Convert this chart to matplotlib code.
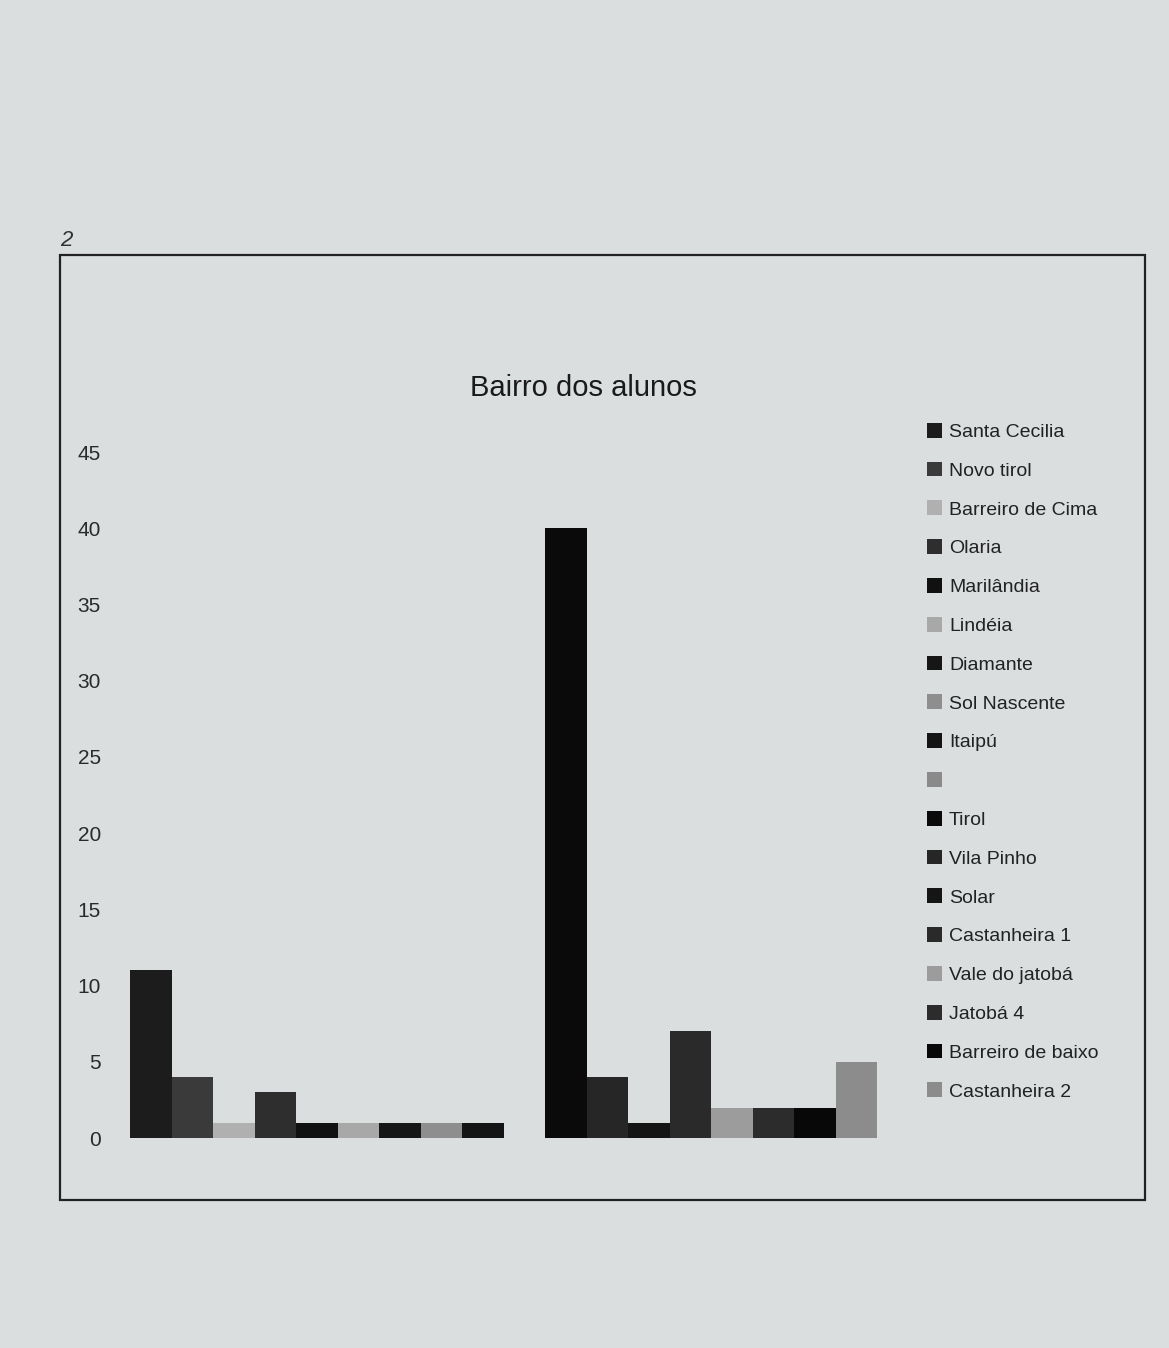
import numpy as np
import matplotlib.pyplot as plt
from matplotlib.patches import Rectangle

# bairros (one series each, as in the original spreadsheet chart)
bairros = ["Santa Cecilia", "Novo tirol", "Barreiro de Cima", "Olaria", "Marilândia",
           "Lindéia", "Diamante", "Sol Nascente", "Itaipú", "",
           "Tirol", "Vila Pinho", "Solar", "Castanheira 1", "Vale do jatobá",
           "Jatobá 4", "Barreiro de baixo", "Castanheira 2"]
alunos = [11, 4, 1, 3, 1, 1, 1, 1, 1, 0,
          40, 4, 1, 7, 2, 2, 2, 5]
cores = ["#1c1c1c", "#3a3a3a", "#b0b0b0", "#2e2e2e", "#111111",
         "#a8a8a8", "#161616", "#8e8e8e", "#141414", "#8a8a8a",
         "#0a0a0a", "#262626", "#151515", "#2a2a2a", "#9c9c9c",
         "#2c2c2c", "#080808", "#8c8c8c"]
yticks = [0, 5, 10, 15, 20, 25, 30, 35, 40, 45]

plt.rcParams['font.family'] = ['Liberation Sans', 'DejaVu Sans']

fig = plt.figure(figsize=(11.69, 13.48), dpi=100)
fig.patch.set_facecolor("#dadede")

# paper frame from the photo
fig.patches.append(Rectangle((60 / 1169, 1 - 1200 / 1348), 1085 / 1169, 945 / 1348,
                             transform=fig.transFigure, fill=False,
                             edgecolor="#222222", linewidth=1.6))
fig.text(60 / 1169, 1 - 240 / 1348, "2", fontsize=16, color="#333333",
         style="italic", va="center")

ax = fig.add_axes([130 / 1169, 210 / 1348, 747 / 1169, 686 / 1348])
ax.set_facecolor("none")

x = np.arange(len(bairros))
for i in range(len(bairros)):
    ax.bar(x[i], alunos[i], width=1.0, color=cores[i], label=bairros[i] if bairros[i] else " ")

ax.set_xlim(-0.5, len(bairros) - 0.5)
ax.set_ylim(0, 45)
ax.set_yticks(yticks)
ax.set_yticklabels([str(v) for v in yticks], fontsize=15, color="#2a2a2a")
ax.tick_params(axis="y", length=0, pad=21)
ax.set_xticks([])
for s in ax.spines.values():
    s.set_visible(False)

fig.text(583 / 1169, 1 - 388 / 1348, "Bairro dos alunos", fontsize=21,
         ha="center", va="center", color="#1a1a1a")

fig.legend(loc="upper left", bbox_to_anchor=(917 / 1169, 1 - 413 / 1348),
           frameon=False, fontsize=14, labelspacing=1.06, handlelength=0.8,
           handleheight=0.8, handletextpad=0.35, borderpad=0, labelcolor="#222222")

fig.savefig("out.png", dpi=100, facecolor=fig.get_facecolor())
